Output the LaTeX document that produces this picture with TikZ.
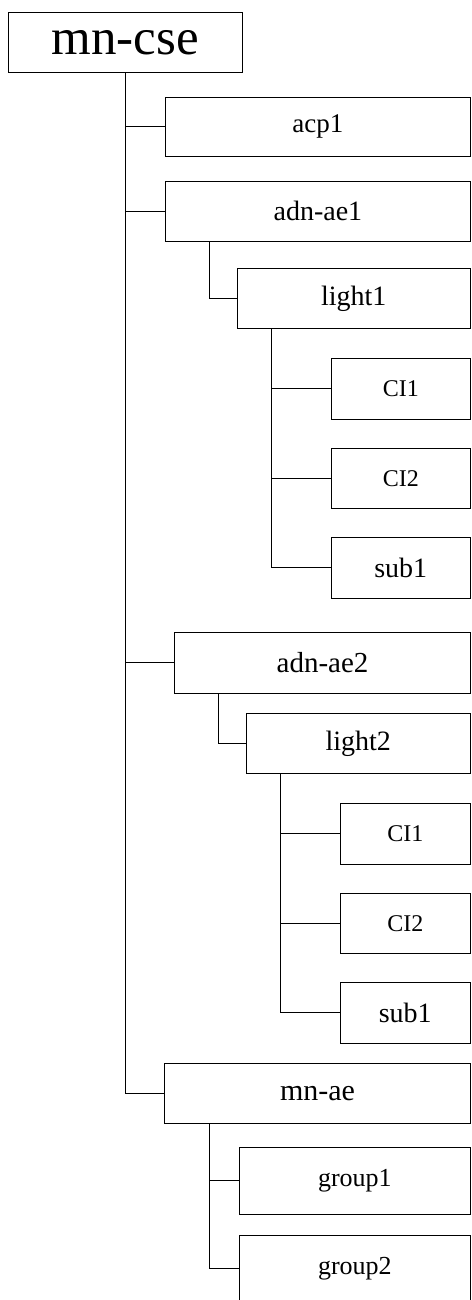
\documentclass[tikz,border=0pt]{standalone}
\usepackage{fontspec}
\setmainfont{Liberation Serif}
\usepackage{tikz}
\usetikzlibrary{positioning}
\tikzset{res box/.style={draw,rectangle,anchor=north west,inner sep=0pt,line width=0.8pt}}
\tikzset{res link/.style={line width=1pt}}

\begin{document}
\begin{tikzpicture}[x=1pt,y=-1pt]
            \useasboundingbox (0,0) rectangle (471,1300);
            % resource boxes: name/left/top/width/height/label/font size
            \foreach \n/\x/\y/\w/\h/\t/\f in {cse/8/12/234/60/mn-cse/51,
                acp/165/97/305/59/acp1/27,
                ae1/165/181/305/60/adn-ae1/28,
                light1/236.7/268/233.3/60/light1/28,
                ci11/330.7/358/139.3/61/CI1/24,
                ci12/330.7/448/139.3/60/CI2/24,
                sub11/330.7/537/139.3/61/sub1/28,
                ae2/174.3/632/295.7/61/adn-ae2/29,
                light2/245.7/713/224.3/60/light2/28,
                ci21/339.7/803/130.3/61/CI1/24,
                ci22/339.7/893/130.3/60/CI2/24,
                sub21/339.7/982/130.3/61/sub1/28,
                mnae/164.3/1063/305.7/60/mn-ae/30,
                grp1/239/1147/231/67/group1/26,
                grp2/239/1235/231/67/group2/26}{
                \node[res box,minimum width=\w pt,minimum height=\h pt,
                font=\fontsize{\f}{\f}\selectfont] (\n) at (\x,\y) {\t};
            }

            % trunk under mn-cse
            \draw[res link] (cse.south) |- (mnae.west);
            \foreach \c in {acp,ae1,ae2}{
                \draw[res link] (cse.south |- \c.west) -- (\c.west);
            }

            % children of the sub-trees
            \foreach \p/\c/\s in {ae1/light1/44,light1/ci11/35,light1/ci12/35,light1/sub11/35,
                ae2/light2/44.4,light2/ci21/35,light2/ci22/35,light2/sub21/35,
                mnae/grp1/45.4,mnae/grp2/45.4}{
                \draw[res link] ([xshift=\s pt]\p.south west) |- (\c.west);
            }
        \end{tikzpicture}
\end{document}
